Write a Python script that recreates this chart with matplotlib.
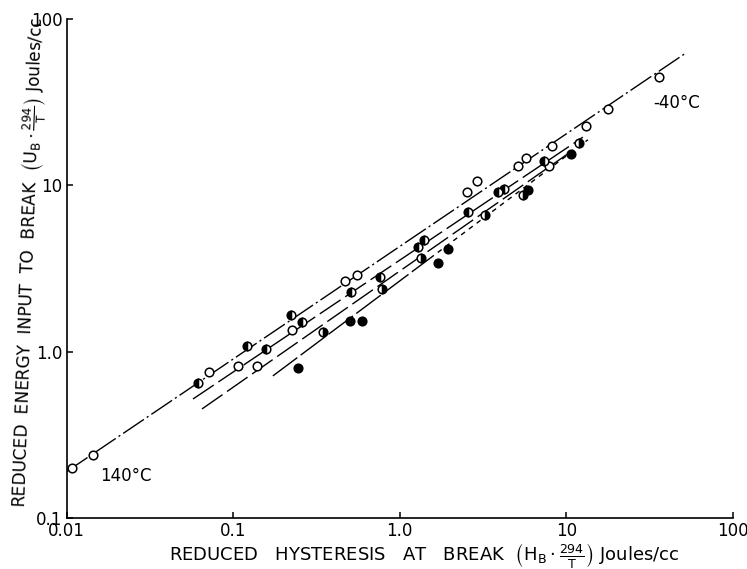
import matplotlib
matplotlib.use("Agg")
import matplotlib.pyplot as plt

plt.rcParams['font.family'] = ['DejaVu Sans']
plt.rcParams['mathtext.fontset'] = 'dejavusans'

# Open circles (140 °C ... -40 °C series)
open_x = [0.0107, 0.0144, 0.0714, 0.107, 0.139, 0.226, 0.469, 0.553, 2.53, 2.91,
          5.13, 5.73, 7.87, 8.20, 13.1, 17.8, 36.1]
open_y = [0.200, 0.240, 0.756, 0.822, 0.822, 1.355, 2.67, 2.90, 9.14, 10.6,
          13.1, 14.6, 13.1, 17.3, 22.8, 28.8, 44.9]

# Half-filled circles (left half dark)
halfL_x = [0.0614, 0.121, 0.157, 0.222, 0.259, 0.509, 0.760, 1.285, 1.396, 2.57,
           3.89, 4.23, 7.35]
halfL_y = [0.650, 1.085, 1.041, 1.667, 1.51, 2.29, 2.82, 4.27, 4.70, 6.93,
           9.14, 9.53, 14.0]

# Half-filled circles (right half dark)
halfR_x = [0.346, 0.782, 1.34, 3.25, 5.50, 11.9]
halfR_y = [1.318, 2.39, 3.66, 6.65, 8.77, 18.0]

# Filled circles
filled_x = [0.245, 0.502, 0.593, 1.69, 1.95, 5.89, 10.7]
filled_y = [0.80, 1.535, 1.535, 3.42, 4.15, 9.40, 15.4]

# Fitted straight lines (end points)
lineA_x, lineA_y = [0.0100, 52.4], [0.191, 62.5]
lineB_x, lineB_y = [0.0573, 12.6], [0.521, 19.5]
lineC_x, lineC_y = [0.0649, 11.7], [0.454, 17.0]
lineD1_x, lineD1_y = [0.173, 1.52], [0.717, 3.65]
lineD2_x, lineD2_y = [1.52, 13.5], [3.65, 18.8]

x_ticks = [0.01, 0.1, 1, 10, 100]
x_ticklabels = ['0.01', '0.1', '1.0', '10', '100']
y_ticks = [0.1, 1, 10, 100]
y_ticklabels = ['0.1', '1.0', '10', '100']

fig = plt.figure(figsize=(7.47, 5.69), dpi=100)
ax = fig.add_axes([0.0894, 0.0891, 0.8914, 0.8775])
ax.set_xscale('log')
ax.set_yscale('log')
ax.set_xlim(0.01, 100)
ax.set_ylim(0.1, 100)

lw = 1.0
ax.plot(lineA_x, lineA_y, color='black', lw=lw, linestyle=(0, (18, 2.5, 1.5, 2.5)), zorder=1)
ax.plot(lineB_x, lineB_y, color='black', lw=lw, linestyle=(0, (18, 4)), zorder=1)
ax.plot(lineC_x, lineC_y, color='black', lw=lw, linestyle=(0, (18, 4)), zorder=1)
ax.plot(lineD1_x, lineD1_y, color='black', lw=lw, linestyle=(0, (22, 3)), zorder=1)
ax.plot(lineD2_x, lineD2_y, color='black', lw=lw, linestyle=(0, (3.5, 3.5)), zorder=1)

ms = 6.2
mew = 1.1
ax.plot(open_x, open_y, linestyle='none', marker='o', ms=ms, mew=mew,
        mfc='white', mec='black', zorder=3)
ax.plot(halfL_x, halfL_y, linestyle='none', marker='o', ms=ms, mew=mew,
        fillstyle='left', mfc='black', mfcalt='white', mec='black', zorder=3)
ax.plot(halfR_x, halfR_y, linestyle='none', marker='o', ms=ms, mew=mew,
        fillstyle='right', mfc='black', mfcalt='white', mec='black', zorder=3)
ax.plot(filled_x, filled_y, linestyle='none', marker='o', ms=ms, mew=mew,
        mfc='black', mec='black', zorder=3)

ax.text(0.0158, 0.1795, '140°C', fontsize=12, ha='left', va='center')
ax.text(33.2, 31.4, '-40°C', fontsize=12, ha='left', va='center')

for s in ('top', 'right'):
    ax.spines[s].set_visible(False)
for s in ('left', 'bottom'):
    ax.spines[s].set_linewidth(1.2)

ax.set_xticks(x_ticks)
ax.set_xticklabels(x_ticklabels)
ax.set_yticks(y_ticks)
ax.set_yticklabels(y_ticklabels)
ax.minorticks_off()
ax.tick_params(axis='both', direction='in', length=4.5, width=1.1, labelsize=12)
ax.tick_params(axis='x', pad=3)
ax.tick_params(axis='y', pad=3)

xlabel = (r"REDUCED   HYSTERESIS   AT   BREAK  "
          r"$\left(\mathrm{H_B}\cdot\frac{294}{\mathrm{T}}\right)$ Joules/cc")
ylabel = (r"REDUCED  ENERGY  INPUT  TO  BREAK  "
          r"$\left(\mathrm{U_B}\cdot\frac{294}{\mathrm{T}}\right)$ Joules/cc")

fig.text(424 / 747, 1 - 555 / 569, xlabel, fontsize=13, ha='center', va='center')
fig.text(30 / 747, 1 - 262 / 569, ylabel, fontsize=12.2, ha='center', va='center',
         rotation=88)

fig.savefig('out.png', dpi=100)
